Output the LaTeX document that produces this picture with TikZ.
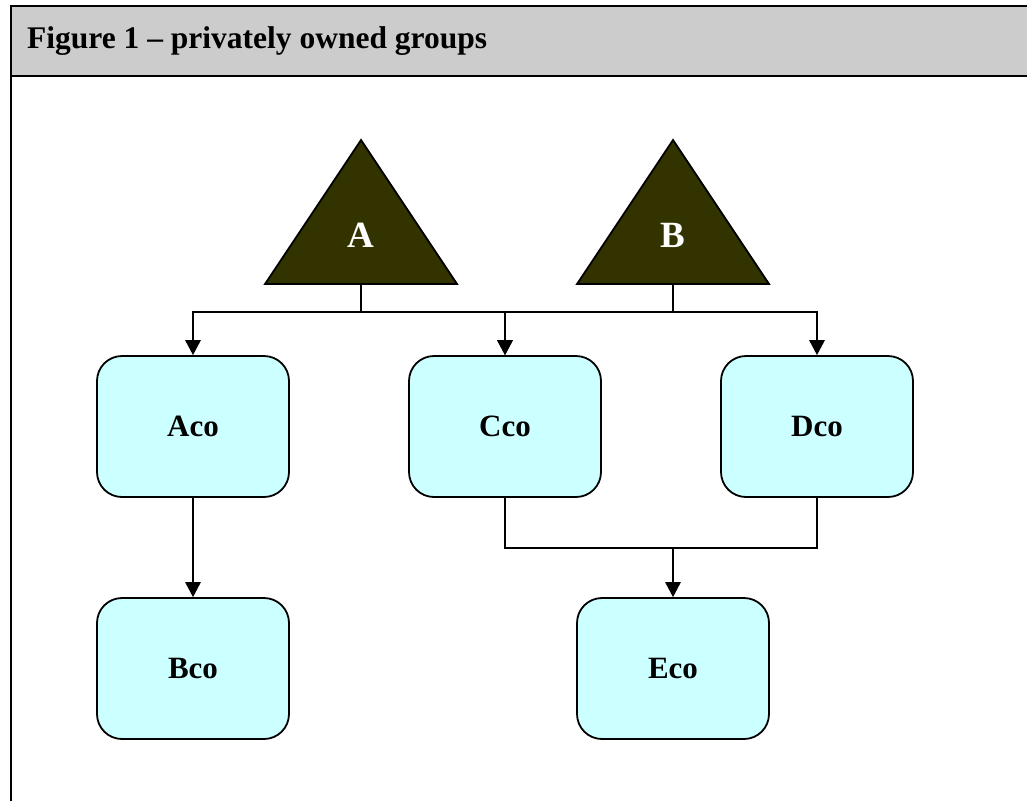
\documentclass[tikz,border=0pt]{standalone}
\usepackage{fontspec}
\setmainfont{Liberation Serif}
\usetikzlibrary{arrows.meta}
\definecolor{headgray}{HTML}{CCCCCC}
\definecolor{boxcyan}{HTML}{CCFFFF}
\definecolor{ownerfill}{HTML}{333300}
\begin{document}
\begin{tikzpicture}[x=1pt,y=-1pt,
  company/.style={draw=black, line width=1.8pt, fill=boxcyan, rounded corners=25pt,
    minimum width=192pt, minimum height=141pt, inner sep=0pt,
    font=\fontsize{31}{31}\selectfont\bfseries},
  owner/.style={draw=black, line width=1.8pt, fill=ownerfill},
  ownerlabel/.style={text=white, inner sep=0pt, font=\fontsize{37}{37}\selectfont\bfseries},
  link/.style={draw=black, line width=1.4pt},
  arr/.style={link, -{Triangle[width=15.5pt,length=15pt]}},
  frame/.style={draw=black, line width=2.2pt}]
\useasboundingbox (0,0) rectangle (1027,801);

% header band and frame
\fill[headgray] (11,6) rectangle (1027,76);
\draw[frame] (10,6) -- (1027,6);
\draw[frame] (10,76) -- (1027,76);
\draw[frame] (11,5) -- (11,801);
\node[anchor=base west, inner sep=0pt, font=\fontsize{31.5}{31.5}\selectfont\bfseries]
  (title) at (27,48.5) {Figure 1 – privately owned groups};

% owners
\draw[owner] (265,284) -- (361,140) -- (457,284) -- cycle;
\node[ownerlabel] (A) at (361,235) {A};
\coordinate (Abase) at (361,284);
\draw[owner] (577,284) -- (673,140) -- (769,284) -- cycle;
\node[ownerlabel] (B) at (673,235) {B};
\coordinate (Bbase) at (673,284);

% companies
\node[company] (aco) at (193,426.5) {Aco};
\node[company] (cco) at (505,426.5) {Cco};
\node[company] (dco) at (817,426.5) {Dco};
\node[company] (bco) at (193,668.5) {Bco};
\node[company] (eco) at (673,668.5) {Eco};

% ownership links
\draw[arr] (Abase) -- ++(0,28) -| (aco.north);
\draw[arr] (Abase) -- ++(0,28) -| (cco.north);
\draw[arr] (Bbase) -- ++(0,28) -| (cco.north);
\draw[arr] (Bbase) -- ++(0,28) -| (dco.north);
\draw[arr] (aco.south) -- (bco.north);
\coordinate (join) at (673,548);
\draw[link] (cco.south) |- (join) -| (dco.south);
\draw[arr] (join) -- (eco.north);
\end{tikzpicture}
\end{document}
